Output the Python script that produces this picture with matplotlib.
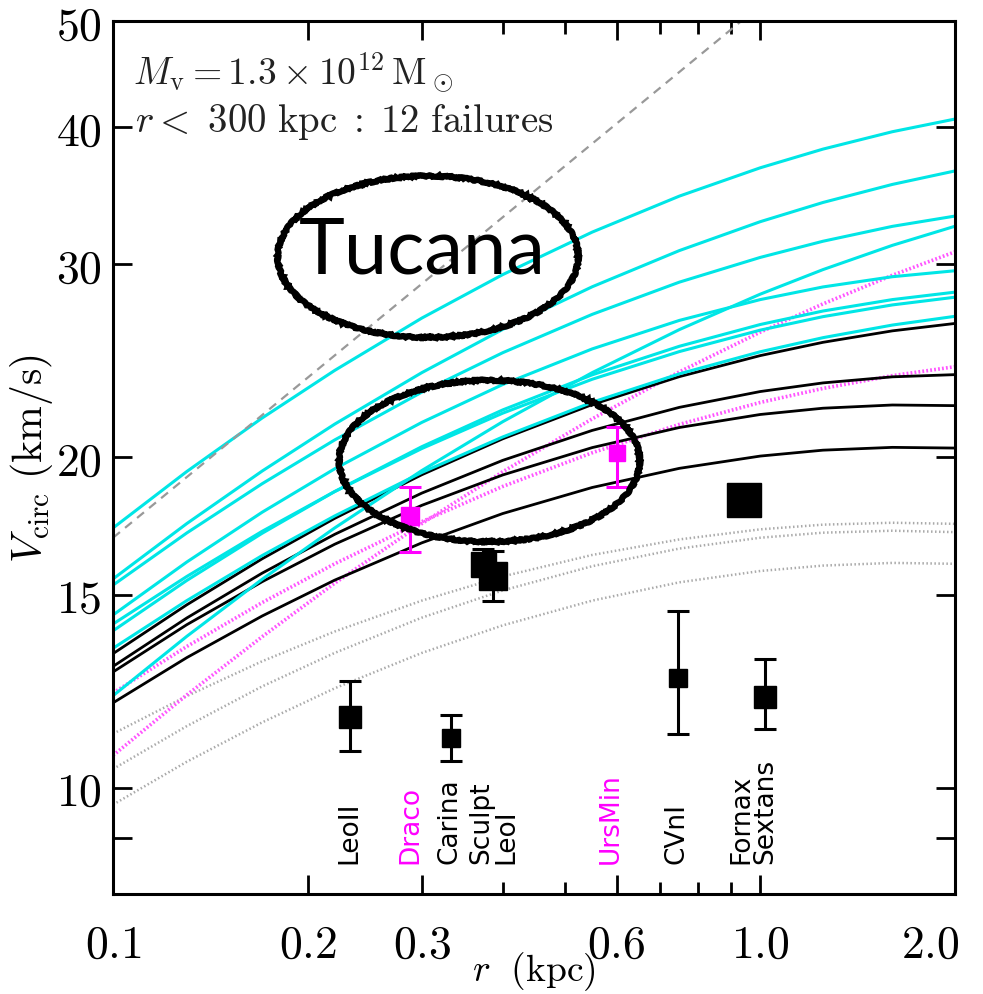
import numpy as np
import matplotlib.pyplot as plt
from matplotlib.patches import Ellipse
from matplotlib.ticker import FixedLocator, FixedFormatter, NullFormatter
from matplotlib.transforms import ScaledTranslation

plt.rcParams['mathtext.fontset'] = 'cm'

r_grid = [0.1, 0.13, 0.17, 0.22, 0.3, 0.4, 0.55, 0.75, 1.0, 1.25, 1.6, 2.0]

# subhalo rotation curves, V_circ (km/s) at r_grid
cyan_curves = [
    [17.25, 19.42, 21.73, 24.01, 26.80, 29.36, 32.10, 34.62, 36.74, 38.21, 39.63, 40.7],
    [15.5, 17.41, 19.44, 21.45, 23.90, 26.17, 28.62, 30.88, 32.81, 34.16, 35.48, 36.5],
    [15.3, 17.07, 18.93, 20.75, 22.94, 24.92, 27.01, 28.90, 30.44, 31.49, 32.49, 33.2],
    [12.13, 13.74, 15.49, 17.25, 19.46, 21.56, 23.90, 26.16, 28.18, 29.67, 31.22, 32.5],
    [14.37, 16.06, 17.83, 19.53, 21.53, 23.31, 25.12, 26.67, 27.86, 28.61, 29.23, 29.6],
    [13.9, 15.45, 17.06, 18.62, 20.46, 22.10, 23.79, 25.26, 26.44, 27.20, 27.86, 28.3],
    [14.1, 15.58, 17.13, 18.62, 20.38, 21.95, 23.57, 24.98, 26.13, 26.88, 27.55, 28.0],
    [13.4, 14.81, 16.28, 17.69, 19.38, 20.88, 22.46, 23.84, 24.97, 25.72, 26.41, 26.9],
]
black_curves = [
    [13.25, 14.68, 16.17, 17.60, 19.29, 20.80, 22.35, 23.70, 24.77, 25.47, 26.09, 26.5],
    [12.9, 14.28, 15.69, 17.02, 18.56, 19.88, 21.17, 22.22, 22.97, 23.39, 23.69, 23.8],
    [12.75, 14.08, 15.41, 16.67, 18.09, 19.28, 20.42, 21.30, 21.89, 22.18, 22.33, 22.3],
    [11.95, 13.14, 14.34, 15.46, 16.72, 17.78, 18.78, 19.55, 20.06, 20.31, 20.43, 20.4],
]
magenta_curves = [
    [10.7, 12.15, 13.73, 15.36, 17.41, 19.41, 21.69, 23.94, 26.02, 27.61, 29.32, 30.8],
    [12.2, 13.45, 14.75, 16.00, 17.48, 18.82, 20.20, 21.44, 22.45, 23.12, 23.75, 24.2],
]
grey_curves = [
    [11.2, 12.12, 13.04, 13.88, 14.81, 15.58, 16.30, 16.84, 17.20, 17.37, 17.44, 17.4],
    [10.4, 11.38, 12.37, 13.27, 14.29, 15.13, 15.92, 16.52, 16.90, 17.08, 17.15, 17.1],
    [9.65, 10.56, 11.47, 12.32, 13.27, 14.06, 14.81, 15.39, 15.76, 15.94, 16.03, 16.0],
]

# dashed reference line
dash_r = [0.1, 0.935]
dash_v = [16.9, 50.0]

# dwarf spheroidals
names = ['LeoII', 'Draco', 'Carina', 'Sculpt', 'LeoI', 'UrsMin', 'CVnI', 'Fornax', 'Sextans']
r_dw = [0.232, 0.288, 0.333, 0.373, 0.387, 0.60, 0.747, 0.945, 1.018]
v_dw = [11.6, 17.7, 11.1, 16.0, 15.6, 20.2, 12.6, 18.3, 12.1]
v_lo = [10.8, 16.4, 10.58, 15.6, 14.8, 18.8, 11.2, 18.3, 11.3]
v_hi = [12.5, 18.8, 11.65, 16.5, 16.45, 21.3, 14.5, 18.3, 13.1]

xt = [0.1, 0.2, 0.3, 0.6, 1.0, 2.0]
xt_lab = ['$0.1$', '$0.2$', '$0.3$', '$0.6$', '$1.0$', '$2.0$']
yt = [10, 15, 20, 30, 40, 50]
yt_lab = ['$10$', '$15$', '$20$', '$30$', '$40$', '$50$']

dw_col = ['black', 'magenta', 'black', 'black', 'black', 'magenta', 'black', 'black', 'black']
dw_ms = [16, 13, 13, 18, 20, 12, 13, 24, 16]
lab_shift = [0, 0, -1.5, -1, 9, -4.5, -1.5, -2, 0]

fig = plt.figure(figsize=(9.83, 9.95), dpi=100)
ax = fig.add_axes([0.115, 0.1005, 0.8566, 0.8774])

for v in grey_curves:
    ax.plot(r_grid, v, color='#aaaaaa', lw=1.8, ls=(0, (0.6, 1.0)))
for v in magenta_curves:
    ax.plot(r_grid, v, color='#ff55ff', lw=2.6, ls=(0, (0.5, 0.6)))
for v in black_curves:
    ax.plot(r_grid, v, color='black', lw=2.0)
for v in cyan_curves:
    ax.plot(r_grid, v, color='#00e6e6', lw=2.2)
ax.plot(dash_r, dash_v, color='#999999', lw=1.6, ls=(0, (4, 3)))

for k in range(len(names)):
    ax.errorbar(r_dw[k], v_dw[k], yerr=[[v_dw[k] - v_lo[k]], [v_hi[k] - v_dw[k]]],
                fmt='s', color=dw_col[k], ms=dw_ms[k], capsize=8, elinewidth=2.2,
                capthick=2.2, zorder=6)
    ax.annotate(names[k], xy=(r_dw[k], 0.035), xycoords=ax.get_xaxis_transform(),
                xytext=(lab_shift[k], 0), textcoords='offset points', rotation=90,
                ha='center', va='bottom', fontsize=19, color=dw_col[k])

ax.set_xscale('log')
ax.set_yscale('log')
ax.set_xlim(0.1, 2.0)
ax.set_ylim(8, 50)
ax.xaxis.set_major_locator(FixedLocator(xt))
ax.xaxis.set_major_formatter(FixedFormatter(xt_lab))
ax.xaxis.set_minor_locator(FixedLocator([0.4, 0.5, 0.7, 0.8, 0.9]))
ax.xaxis.set_minor_formatter(NullFormatter())
ax.yaxis.set_major_locator(FixedLocator(yt))
ax.yaxis.set_major_formatter(FixedFormatter(yt_lab))
ax.yaxis.set_minor_locator(FixedLocator([9]))
ax.yaxis.set_minor_formatter(NullFormatter())
ax.tick_params(which='both', direction='in', top=True, right=True, width=2, labelsize=33)
ax.tick_params(axis='x', which='major', length=14, pad=20)
ax.tick_params(axis='x', which='minor', length=9)
ax.tick_params(axis='y', which='both', length=14, pad=8)
for s in ax.spines.values():
    s.set_linewidth(2.2)

# last x label sits inside the figure edge
fig.canvas.draw()
lab = ax.get_xticklabels()[-1]
lab.set_ha('right')
lab.set_transform(lab.get_transform() + ScaledTranslation(0.05, 0, fig.dpi_scale_trans))

ax.set_xlabel(r'$r\ \ (\mathrm{kpc})$', fontsize=27, labelpad=-13)
ax.set_ylabel(r'$V_{\rm circ}\ (\mathrm{km/s})$', fontsize=30, labelpad=1)

ax.text(0.024, 0.943, r'$M_{\rm v}=1.3\times10^{12}\,\mathrm{M}_\odot$', transform=ax.transAxes,
        fontsize=27, va='center', ha='left', color='#222222')
ax.text(0.026, 0.885, r'$r<\ 300\ \mathrm{kpc}\;:\;12\ \mathrm{failures}$', transform=ax.transAxes,
        fontsize=28, va='center', ha='left', color='#222222')

# hand drawn marks
for cx, cy in [(0.374, 0.730), (0.447, 0.496)]:
    e = Ellipse((cx, cy), 0.357, 0.185, transform=ax.transAxes, fill=False,
                lw=4.5, ec='black', zorder=10, clip_on=False)
    e.set_sketch_params(0.8, 6, 8)
    ax.add_patch(e)
ax.text(0.367, 0.7365, 'Tucana', transform=ax.transAxes, fontsize=56,
        family=['Lato', 'DejaVu Sans'], ha='center', va='center', zorder=11)

plt.savefig('out.png', dpi=100)
